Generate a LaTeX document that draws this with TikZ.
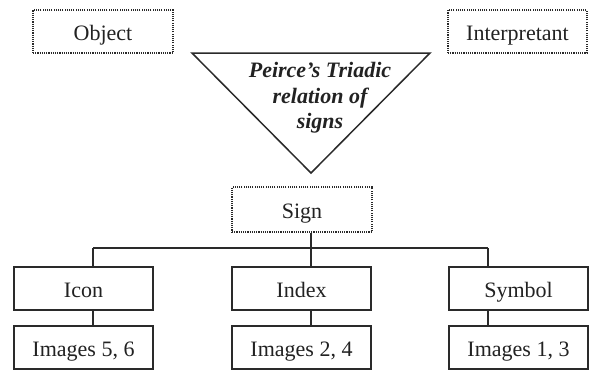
\documentclass[tikz,border=0pt]{standalone}
\usepackage{fontspec}
\setmainfont{Liberation Serif}
\definecolor{ink}{HTML}{2A2A2A}
\definecolor{txt}{HTML}{222222}
\begin{document}
\begin{tikzpicture}[x=1pt,y=-1pt,
  lbl/.style={font=\fontsize{22}{26}\selectfont, text=txt, text height=18pt, text depth=1pt},
  dotbox/.style={draw=ink, line width=1.3pt, dash pattern=on 1.1pt off 1.1pt, inner sep=0pt, minimum height=43pt, lbl},
  solidbox/.style={draw=ink, line width=1.3pt, inner sep=0pt, minimum width=139pt, minimum height=43pt, lbl},
  conn/.style={draw=ink, line width=1.3pt}]
\useasboundingbox[fill=white] (0,0) rectangle (605,370);
% top dotted boxes
\node[dotbox, minimum width=140pt] (object) at (103,31.5) {Object};
\node[dotbox, minimum width=139pt] (interp) at (517.5,31.5) {Interpretant};
% triangle
\coordinate (tl) at (192,53);
\coordinate (tr) at (430,53);
\coordinate (ta) at (311,173);
\draw[ink, line width=1.5pt, line join=miter] (tl) -- (tr) -- (ta) -- cycle;
\node[align=center, font=\fontsize{22}{25.5}\selectfont\bfseries\itshape, text=txt, inner sep=0pt] (triad) at (320,98) {Peirce’s Triadic\\relation of\\signs};
% sign
\node[dotbox, minimum width=140pt, minimum height=45pt] (sign) at (302,209.5) {Sign};
% second row
\node[solidbox] (icon) at (83.5,288.5) {Icon};
\node[solidbox] (index) at (301.5,288.5) {Index};
\node[solidbox] (symbol) at (518.5,288.5) {Symbol};
% third row
\node[solidbox] (img1) at (83.5,347.5) {Images 5, 6};
\node[solidbox] (img2) at (301.5,347.5) {Images 2, 4};
\node[solidbox] (img3) at (518.5,347.5) {Images 1, 3};
% connectors
\coordinate (jc) at (311,248);
\coordinate (jl) at (93,248);
\coordinate (jr) at (488,248);
\draw[conn] (sign.south -| jc) -- (jc);
\draw[conn] (jl) -- (jr);
\draw[conn] (jl) -- (jl |- icon.north);
\draw[conn] (jc) -- (jc |- index.north);
\draw[conn] (jr) -- (jr |- symbol.north);
\draw[conn] (icon.south -| jl) -- (img1.north -| jl);
\draw[conn] (index.south -| jc) -- (img2.north -| jc);
\draw[conn] (symbol.south -| jr) -- (img3.north -| jr);
\end{tikzpicture}
\end{document}
